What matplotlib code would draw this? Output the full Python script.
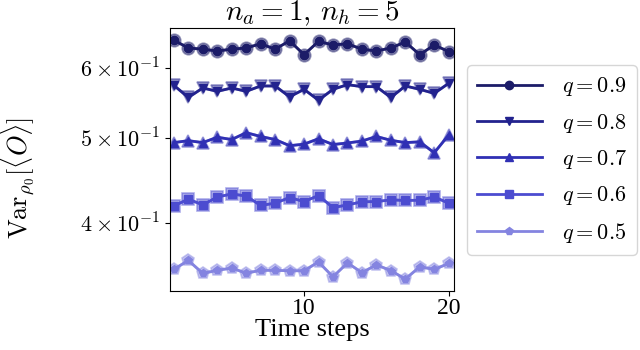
import matplotlib
matplotlib.use("Agg")
import matplotlib.pyplot as plt
from matplotlib.ticker import FixedLocator, FixedFormatter, NullLocator

plt.rcParams['font.family'] = 'Liberation Serif'
plt.rcParams['mathtext.fontset'] = 'cm'

# Data
steps = list(range(1, 21))
q_labels = ['$q=0.9$', '$q=0.8$', '$q=0.7$', '$q=0.6$', '$q=0.5$']
var_q09 = [0.646, 0.633, 0.631, 0.628, 0.631, 0.633, 0.640, 0.631, 0.645, 0.622,
           0.644, 0.638, 0.640, 0.631, 0.628, 0.633, 0.643, 0.622, 0.638, 0.627]
var_q08 = [0.574, 0.556, 0.570, 0.565, 0.570, 0.565, 0.573, 0.573, 0.557, 0.568,
           0.552, 0.568, 0.575, 0.572, 0.572, 0.556, 0.573, 0.568, 0.562, 0.577]
var_q07 = [0.494, 0.4965, 0.494, 0.501, 0.498, 0.507, 0.502, 0.498, 0.490, 0.492,
           0.499, 0.4915, 0.4935, 0.496, 0.502, 0.497, 0.494, 0.495, 0.481, 0.504]
var_q06 = [0.4185, 0.426, 0.4196, 0.4284, 0.4318, 0.4295, 0.419, 0.4215, 0.4278, 0.4233,
           0.430, 0.4166, 0.4196, 0.423, 0.4233, 0.4252, 0.4245, 0.4248, 0.4284, 0.4215]
var_q05 = [0.3544, 0.3628, 0.3507, 0.3535, 0.3556, 0.3509, 0.3535, 0.3535, 0.3531, 0.3531,
           0.3614, 0.3475, 0.3605, 0.3514, 0.3586, 0.3533, 0.3455, 0.3568, 0.3544, 0.3599]
yticks = [0.4, 0.5, 0.6]
ytick_labels = [r'$4\times10^{-1}$', r'$5\times10^{-1}$', r'$6\times10^{-1}$']
xticks = [10, 20]

series = [var_q09, var_q08, var_q07, var_q06, var_q05]
colors = ['#1c1c68', '#22228e', '#3030b4', '#4c4cd0', '#8484e0']
markers = ['o', 'v', '^', 's', 'p']

fig = plt.figure(figsize=(6.4, 3.5), dpi=100)
ax = fig.add_axes([0.266, 0.169, 0.443, 0.751])

for ys, c, m, lab in zip(series, colors, markers, q_labels):
    # light outer marker ring
    ax.plot(steps, ys, color=c, lw=2, marker=m, ms=9, mfc=c, mec=c,
            alpha=0.45, mew=1.2)
    ax.plot(steps, ys, color=c, lw=2, marker=m, ms=6, mfc=c, mec=c,
            label=lab)

ax.set_yscale('log')
ax.set_ylim(0.335, 0.667)
ax.set_xlim(0.75, 20.35)
ax.yaxis.set_major_locator(FixedLocator(yticks))
ax.yaxis.set_major_formatter(FixedFormatter(ytick_labels))
ax.yaxis.set_minor_locator(NullLocator())
ax.set_xticks(xticks)
ax.tick_params(axis='x', labelsize=17, pad=2)
ax.tick_params(axis='y', labelsize=16)

ax.set_xlabel('Time steps', fontsize=19, labelpad=0)
ax.set_ylabel(r'$\mathrm{Var}_{\rho_0}[\langle O\rangle]$', fontsize=19)
ax.yaxis.set_label_coords(-0.47, 0.43)
ax.set_title(r'$n_a=1,\,n_h=5$', fontsize=21, pad=2)

ax.legend(loc='center left', bbox_to_anchor=(0.73, 0.543),
          bbox_transform=fig.transFigure, fontsize=16, handlelength=2.9,
          handletextpad=0.9, labelspacing=0.6, borderpad=0.45,
          borderaxespad=0)

fig.savefig('out.png', dpi=100)
